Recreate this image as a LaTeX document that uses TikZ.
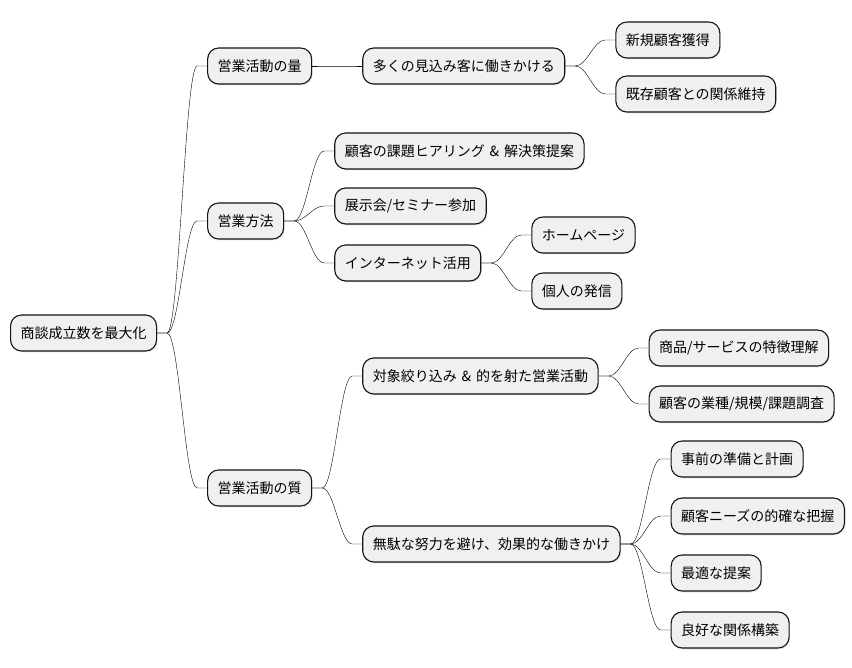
\documentclass[tikz,border=0pt]{standalone}
\usepackage{fontspec}
\setmainfont{Noto Sans CJK JP}
\usepackage{tikz}
\usetikzlibrary{positioning, calc, shadows}

\begin{document}
\begin{tikzpicture}[
  font=\fontsize{14pt}{16pt}\selectfont,
  topic/.style={draw=black!92, line width=1.1pt, fill=black!6,
                rounded corners=11pt, minimum height=36pt,
                inner xsep=10pt, inner ysep=2pt,
                drop shadow={opacity=0.18, shadow xshift=1pt, shadow yshift=-1.5pt}},
  branch/.style={draw=black!92, line width=0.8pt,
                 to path={-- ++(10pt,0) .. controls +(12pt,0) and +(-12pt,0)
                          .. ($(\tikztotarget)+(-10pt,0)$) -- (\tikztotarget)}}
]
\useasboundingbox (0,0) rectangle (852pt,-668pt);

% root
\node[topic, anchor=west] (root) at (10pt,-333pt) {商談成立数を最大化};

% level 1
\node[topic, right=50pt of root, yshift=267pt]  (qty)  {営業活動の量};
\node[topic, right=50pt of root, yshift=112pt]  (how)  {営業方法};
\node[topic, right=50pt of root, yshift=-155pt] (qlt)  {営業活動の質};

% quantity
\node[topic, right=50pt of qty] (reach) {多くの見込み客に働きかける};
\node[topic, right=50pt of reach, yshift=26pt]  (newc) {新規顧客獲得};
\node[topic, right=50pt of reach, yshift=-28pt] (keep) {既存顧客との関係維持};

% methods
\node[topic, right=50pt of how, yshift=70pt]  (hear) {顧客の課題ヒアリング\hspace{0.35em}\&\hspace{0.35em}解決策提案};
\node[topic, right=50pt of how, yshift=15pt]  (expo) {展示会/セミナー参加};
\node[topic, right=50pt of how, yshift=-42pt] (web)  {インターネット活用};
\node[topic, right=50pt of web, yshift=28pt]  (home) {ホームページ};
\node[topic, right=50pt of web, yshift=-28pt] (self) {個人の発信};

% quality
\node[topic, right=50pt of qlt, yshift=112pt] (focus) {対象絞り込み\hspace{0.35em}\&\hspace{0.35em}的を射た営業活動};
\node[topic, right=50pt of focus, yshift=28pt]  (prod) {商品/サービスの特徴理解};
\node[topic, right=50pt of focus, yshift=-28pt] (res)  {顧客の業種/規模/課題調査};
\node[topic, right=50pt of qlt, yshift=-56pt] (eff)  {無駄な努力を避け、効果的な働きかけ};
\node[topic, right=50pt of eff, yshift=85pt]  (prep) {事前の準備と計画};
\node[topic, right=50pt of eff, yshift=28pt]  (need) {顧客ニーズの的確な把握};
\node[topic, right=50pt of eff, yshift=-29pt] (prop) {最適な提案};
\node[topic, right=50pt of eff, yshift=-86pt] (rel)  {良好な関係構築};

\draw (root.east) to[branch] (qty.west);
\draw (root.east) to[branch] (how.west);
\draw (root.east) to[branch] (qlt.west);

\draw (qty.east) to[branch] (reach.west);
\draw (reach.east) to[branch] (newc.west);
\draw (reach.east) to[branch] (keep.west);

\draw (how.east) to[branch] (hear.west);
\draw (how.east) to[branch] (expo.west);
\draw (how.east) to[branch] (web.west);
\draw (web.east) to[branch] (home.west);
\draw (web.east) to[branch] (self.west);

\draw (qlt.east) to[branch] (focus.west);
\draw (focus.east) to[branch] (prod.west);
\draw (focus.east) to[branch] (res.west);
\draw (qlt.east) to[branch] (eff.west);
\draw (eff.east) to[branch] (prep.west);
\draw (eff.east) to[branch] (need.west);
\draw (eff.east) to[branch] (prop.west);
\draw (eff.east) to[branch] (rel.west);
\end{tikzpicture}
\end{document}
